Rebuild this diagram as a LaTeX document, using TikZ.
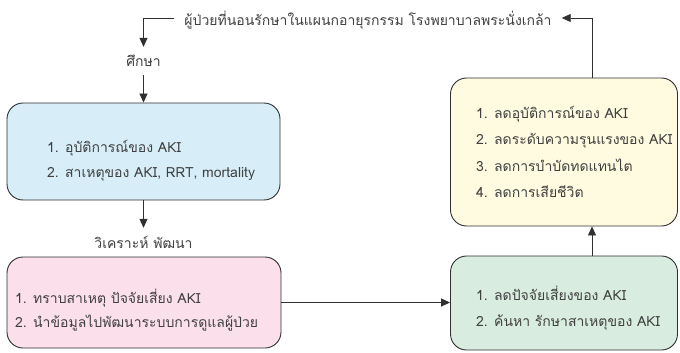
\documentclass[tikz,border=0pt]{standalone}
\usepackage{fontspec}
\setmainfont[Script=Thai]{Loma}
\usetikzlibrary{arrows.meta}
\definecolor{txtc}{HTML}{404040}
\definecolor{linec}{HTML}{303030}
\definecolor{bluef}{HTML}{D7EEF8}
\definecolor{pinkf}{HTML}{FBE0EC}
\definecolor{yellf}{HTML}{FFFBE0}
\definecolor{greenf}{HTML}{D8ECDF}
\tikzset{
  box/.style={draw=linec, line width=0.9pt, rounded corners=16pt, inner sep=0pt},
  txt/.style={text=txtc, font=\fontsize{14}{16}\selectfont, inner sep=0pt, anchor=base west},
  lab/.style={text=txtc, font=\fontsize{14}{16}\selectfont, inner sep=0pt},
  conn/.style={draw=linec, line width=0.8pt},
  arr/.style={conn, -{Triangle[length=9pt,width=8pt]}}
}
\begin{document}
\begin{tikzpicture}[x=1pt,y=-1pt]
\useasboundingbox (0,0) rectangle (680,353);
% boxes
\node[box, fill=bluef, minimum width=273pt, minimum height=97pt] (blue) at (143.5,151.5) {};
\node[box, fill=pinkf, minimum width=274pt, minimum height=91pt] (pink) at (144,302.5) {};
\node[box, fill=greenf, minimum width=227pt, minimum height=94pt] (green) at (564,303) {};
\node[box, fill=yellf, minimum width=227pt, minimum height=148pt] (yell) at (564,152) {};
% box texts
\node[txt] (b1) at (47,152) {1. อุบัติการณ์ของ AKI};
\node[txt] (b2) at (47,177) {2. สาเหตุของ AKI, RRT, mortality};
\node[txt] (p1) at (15,303) {1. ทราบสาเหตุ ปัจจัยเสี่ยง AKI};
\node[txt] (p2) at (15,327) {2. นำข้อมูลไปพัฒนาระบบการดูแลผู้ป่วย};
\node[txt] (g1) at (476,300) {1. ลดปัจจัยเสี่ยงของ AKI};
\node[txt] (g2) at (476,326) {2. ค้นหา รักษาสาเหตุของ AKI};
\node[txt] (y1) at (476,118) {1. ลดอุบัติการณ์ของ AKI};
\node[txt] (y2) at (476,144) {2. ลดระดับความรุนแรงของ AKI};
\node[txt] (y3) at (476,171) {3. ลดการบำบัดทดแทนไต};
\node[txt] (y4) at (476,197) {4. ลดการเสียชีวิต};
% labels
\node[lab, inner xsep=10pt] (top) at (368,20) {ผู้ป่วยที่นอนรักษาในแผนกอายุรกรรม โรงพยาบาลพระนั่งเกล้า};
\node[lab, minimum height=28pt] (study) at (143.5,61) {ศึกษา};
\node[lab, minimum height=29pt] (anal) at (143.5,242.5) {วิเคราะห์ พัฒนา};
\coordinate (tl) at (143.5,18);
\coordinate (tr) at (592,18);
% connectors
\draw[arr] (top.west |- tl) -- (tl) -- (study.north);
\draw[arr] (study.south) -- (blue.north);
\draw[arr] (blue.south) -- (anal.north);
\draw[arr] (pink.east) -- (pink.east -| green.west);
\draw[arr] (tr |- green.north) -- (tr |- yell.south);
\draw[arr] (tr |- yell.north) -- (tr) -- (top.east |- tr);
\end{tikzpicture}
\end{document}
